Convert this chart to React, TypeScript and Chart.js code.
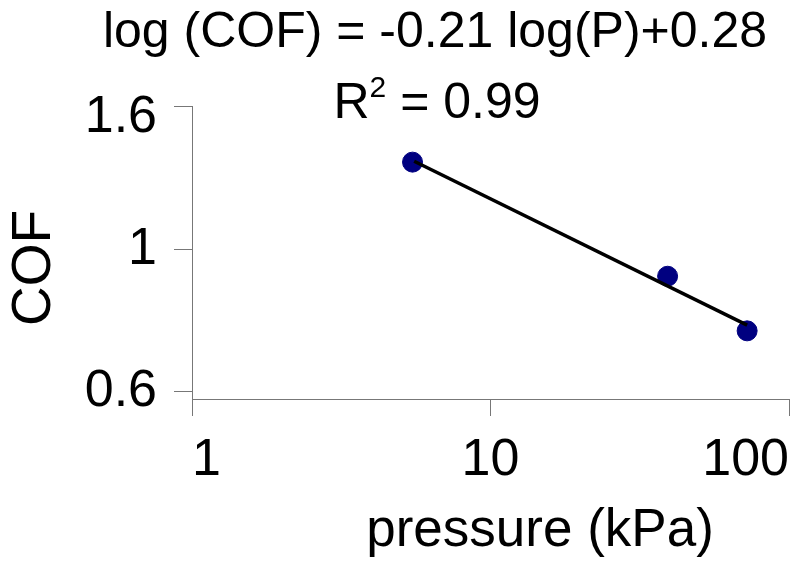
import React, { useEffect, useRef } from 'react';
import { Chart, registerables } from 'chart.js';

Chart.register(...registerables);

// ---- data ----
const pressure = [5.48, 39.2, 72.4];
const cof = [1.346, 0.912, 0.757];
const trendPressure = [5.55, 72.4];
const trendCof = [1.35, 0.772];
const xTickValues = [1, 10, 100];
const xTickLabels = ['1', '10', '100'];
const yTickValues = [0.615, 1, 1.63];
const yTickLabels = ['0.6', '1', '1.6'];
const equationText = 'log (COF) = -0.21 log(P)+0.28';
const rSquaredValue = '0.99';
const xTitle = 'pressure (kPa)';
const yTitle = 'COF';

const FONT = '"Liberation Sans", Arial, Helvetica, sans-serif';
const AXIS_COLOR = '#777777';

const textPlugin = {
  id: 'annotTexts',
  afterDraw(chart: any) {
    const ctx = chart.ctx as CanvasRenderingContext2D;
    ctx.save();
    ctx.fillStyle = '#000000';
    ctx.textBaseline = 'alphabetic';

    // trendline equation
    ctx.font = `50px ${FONT}`;
    ctx.textAlign = 'center';
    ctx.fillText(equationText, 435, 47);

    // R² line
    ctx.textAlign = 'left';
    ctx.font = `50px ${FONT}`;
    const wR = ctx.measureText('R').width;
    const rest = ' = ' + rSquaredValue;
    const wRest = ctx.measureText(rest).width;
    ctx.font = `30px ${FONT}`;
    const wSup = ctx.measureText('2').width;
    const total = wR + wSup + wRest;
    const start = 437 - total / 2;
    const base2 = 118;
    ctx.font = `50px ${FONT}`;
    ctx.fillText('R', start, base2);
    ctx.font = `30px ${FONT}`;
    ctx.fillText('2', start + wR, base2 - 21);
    ctx.font = `50px ${FONT}`;
    ctx.fillText(rest, start + wR + wSup, base2);

    // x axis title
    ctx.textAlign = 'center';
    ctx.font = `53px ${FONT}`;
    ctx.fillText(xTitle, 540, 546);

    // y axis title
    ctx.translate(50, 268);
    ctx.rotate(-Math.PI / 2);
    ctx.font = `55px ${FONT}`;
    ctx.textAlign = 'center';
    ctx.fillText(yTitle, 0, 0);
    ctx.restore();
  },
};

function ChartView() {
  const canvasRef = useRef<HTMLCanvasElement | null>(null);

  useEffect(() => {
    if (!canvasRef.current) return;
    const chart = new Chart(canvasRef.current, {
      type: 'scatter',
      data: {
        datasets: [
          {
            label: 'trend',
            data: trendPressure.map((p, i) => ({ x: p, y: trendCof[i] })),
            showLine: true,
            borderColor: '#000000',
            borderWidth: 3.5,
            pointRadius: 0,
            order: 0,
          },
          {
            label: 'COF',
            data: pressure.map((p, i) => ({ x: p, y: cof[i] })),
            backgroundColor: '#000080',
            borderColor: '#000080',
            pointRadius: 10,
            pointBorderWidth: 1,
            order: 1,
          },
        ],
      },
      options: {
        animation: false,
        responsive: true,
        maintainAspectRatio: false,
        layout: { padding: { top: 106, left: 0, right: 10, bottom: 0 } },
        plugins: {
          legend: { display: false },
          tooltip: { enabled: false },
          title: { display: false },
        },
        scales: {
          x: {
            type: 'logarithmic',
            position: 'bottom',
            min: 1,
            max: 100,
            afterBuildTicks: (s: any) => {
              s.ticks = xTickValues.map((v) => ({ value: v }));
            },
            afterFit: (s: any) => {
              s.height = 174;
              s.paddingLeft = 0;
              s.paddingRight = 0;
            },
            ticks: {
              align: 'inner',
              autoSkip: false,
              maxRotation: 0,
              padding: 13,
              color: '#000000',
              font: { family: FONT, size: 52 },
              callback: (_v: any, i: number) => xTickLabels[i],
            },
            grid: {
              drawOnChartArea: false,
              drawTicks: true,
              tickLength: 17,
              color: AXIS_COLOR,
              lineWidth: 1,
            },
            border: { display: true, color: AXIS_COLOR, width: 1 },
          },
          y: {
            type: 'logarithmic',
            position: 'left',
            min: 0.615,
            max: 1.63,
            afterBuildTicks: (s: any) => {
              s.ticks = yTickValues.map((v) => ({ value: v }));
            },
            afterFit: (s: any) => {
              s.width = 192;
            },
            ticks: {
              autoSkip: false,
              padding: 17,
              color: '#000000',
              font: { family: FONT, size: 52, lineHeight: 0.45 },
              callback: (_v: any, i: number) =>
                i === yTickValues.length - 1 ? ['', yTickLabels[i]] : yTickLabels[i],
            },
            grid: {
              drawOnChartArea: false,
              drawTicks: true,
              tickLength: 18,
              color: AXIS_COLOR,
              lineWidth: 1,
            },
            border: { display: true, color: AXIS_COLOR, width: 1 },
          },
        },
      } as any,
      plugins: [textPlugin],
    });
    return () => chart.destroy();
  }, []);

  return (
    <div style={{ position: 'fixed', left: 0, top: 0, width: 800, height: 573, background: '#ffffff' }}>
      <canvas ref={canvasRef} />
    </div>
  );
}

export default function App() {
  return <ChartView />;
}
